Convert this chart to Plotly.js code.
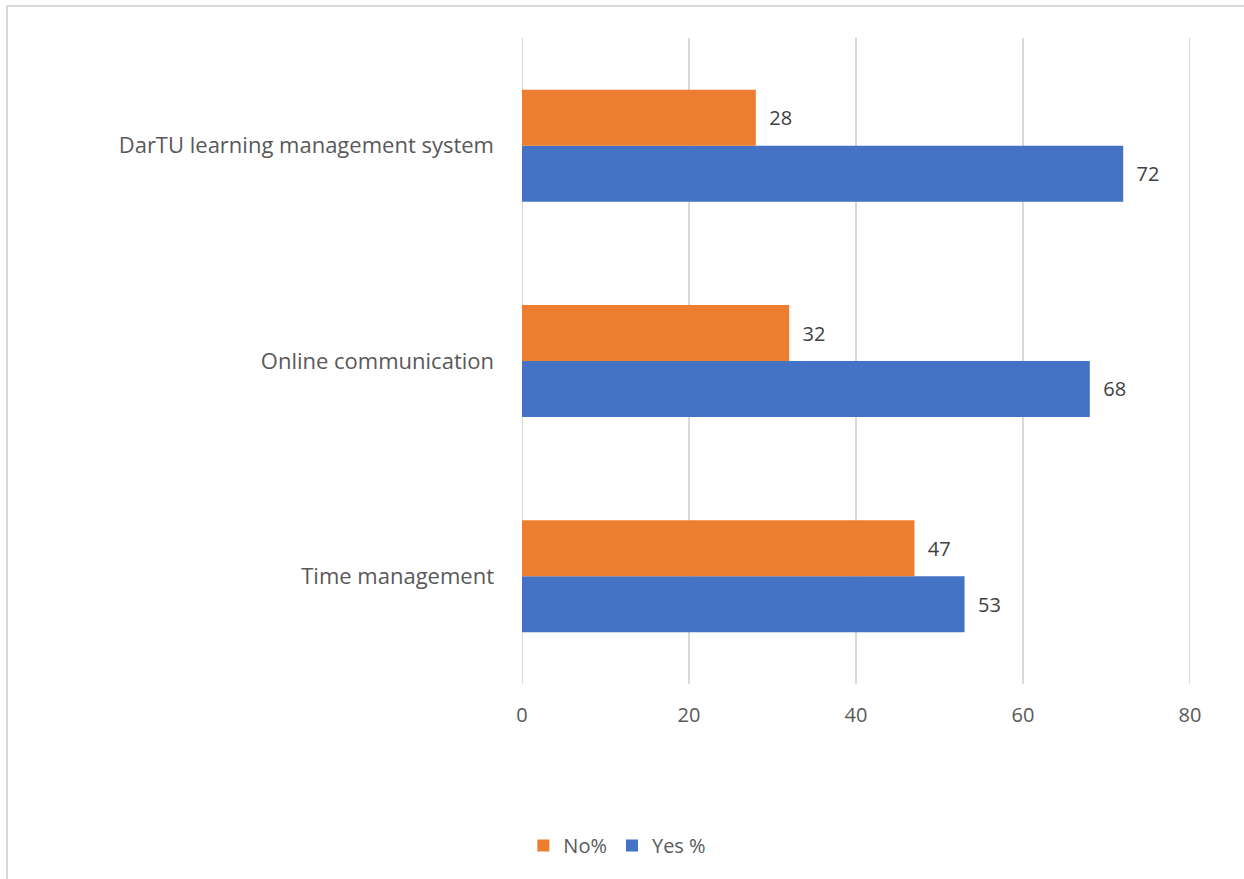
<!DOCTYPE html>
<html>
<head>
<meta charset="utf-8">
<script src="https://cdn.plot.ly/plotly-3.0.1.min.js"></script>
<style>
  html, body { margin: 0; padding: 0; background: #ffffff; overflow: hidden; }
  #chart { position: absolute; left: 0; top: 0; width: 1244px; height: 879px; }
  #frame { position: absolute; left: 6px; top: 5px; width: 1300px; height: 900px;
           border-top: 2px solid #d9d9d9; border-left: 2px solid #d9d9d9; pointer-events: none; }
</style>
</head>
<body>
<div id="chart"></div>
<div id="frame"></div>
<script>
const categories = ["Time management", "Online communication", "DarTU learning management system"];
const yesValues = [53, 68, 72];
const noValues = [47, 32, 28];
const xTicks = [0, 20, 40, 60, 80];

const fontFamily = "'Open Sans', Lato, sans-serif";
const labelFont = { family: fontFamily, size: 20, color: "#404040" };

const traces = [
  {
    type: "bar", orientation: "h", name: "Yes %",
    y: categories, x: yesValues,
    marker: { color: "#4472C4" },
    text: yesValues.map(v => "\u00a0\u00a0" + v),
    textposition: "outside", textfont: labelFont, cliponaxis: false,
    hoverinfo: "x+y"
  },
  {
    type: "bar", orientation: "h", name: "No%",
    y: categories, x: noValues,
    marker: { color: "#ED7D31" },
    text: noValues.map(v => "\u00a0\u00a0" + v),
    textposition: "outside", textfont: labelFont, cliponaxis: false,
    hoverinfo: "x+y"
  }
];

const gridShapes = xTicks.map(v => ({
  type: "line", layer: "below", xref: "x", yref: "paper",
  x0: v, x1: v, y0: 0, y1: 1,
  line: { color: "#d9d9d9", width: 2 }
}));

const layout = {
  width: 1244, height: 879,
  margin: { l: 522, r: 54, t: 38, b: 195, pad: 0 },
  paper_bgcolor: "rgba(0,0,0,0)", plot_bgcolor: "rgba(0,0,0,0)",
  font: { family: fontFamily, size: 20, color: "#595959" },
  barmode: "group", bargap: 0.48, bargroupgap: 0,
  shapes: gridShapes,
  xaxis: {
    range: [0, 80], tickvals: xTicks, ticktext: xTicks.map(String),
    showgrid: false, zeroline: false, showline: false, ticks: "",
    tickfont: { size: 20, color: "#595959" }, ticklabelstandoff: 17,
    fixedrange: true
  },
  yaxis: {
    type: "category", categoryorder: "array", categoryarray: categories,
    showgrid: false, zeroline: false, showline: false, ticks: "",
    tickfont: { size: 22, color: "#595959" }, ticklabelstandoff: 27,
    fixedrange: true
  },
  showlegend: true,
  legend: {
    orientation: "h", traceorder: "reversed",
    x: 0.002, xanchor: "left", y: -0.25, yanchor: "middle",
    font: { size: 20, color: "#595959" },
    itemwidth: 30, bgcolor: "rgba(0,0,0,0)"
  }
};

Plotly.newPlot("chart", traces, layout, { displayModeBar: false, staticPlot: true });
</script>
</body>
</html>
